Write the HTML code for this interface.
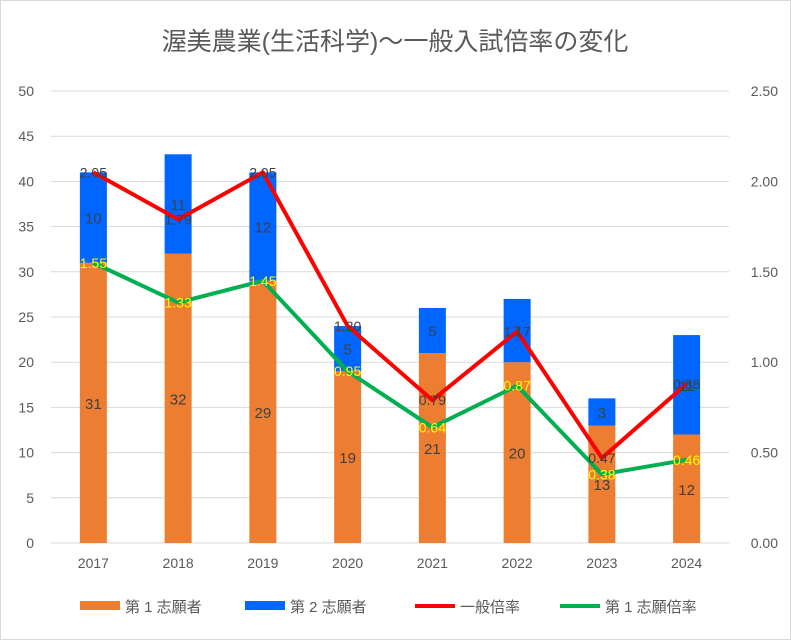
<!DOCTYPE html>
<html><head><meta charset="utf-8"><style>
body{margin:0;background:#fff}
svg{display:block;font-family:"Liberation Sans","Noto Sans CJK JP",sans-serif}
</style></head><body>
<svg id="c" width="791" height="640">
<rect x="0.5" y="0.5" width="790" height="639" fill="#fff" stroke="#d9d9d9"/>
<text x="395" y="50" text-anchor="middle" font-size="25" fill="#595959">渥美農業(生活科学)～一般入試倍率の変化</text>
<g id="grid"></g><g id="bars"></g><g id="lines"></g><g id="labels"></g>
<g id="legend" font-size="15" fill="#595959">
<g><rect x="80" y="601" width="40" height="9" fill="#ed7d31"/><text x="125" y="612">第 1 志願者</text></g>
<g><rect x="245" y="601" width="40" height="9" fill="#0066ff"/><text x="290" y="612">第 2 志願者</text></g>
<g><line x1="415" y1="606" x2="455" y2="606" stroke="#ff0000" stroke-width="4"/><text x="460" y="612">一般倍率</text></g>
<g><line x1="560" y1="606" x2="600" y2="606" stroke="#00b050" stroke-width="4"/><text x="605" y="612">第 1 志願倍率</text></g>
</g>
</svg>
<script>
const categories=["2017","2018","2019","2020","2021","2022","2023","2024"];
const firstApplicants=[31,32,29,19,21,20,13,12];
const secondApplicants=[10,11,12,5,5,7,3,11];
const generalRate=[2.05,1.79,2.05,1.20,0.79,1.17,0.47,0.88];
const firstRate=[1.55,1.33,1.45,0.95,0.64,0.87,0.38,0.46];
const leftTicks=[0,5,10,15,20,25,30,35,40,45,50];
const rightTicks=["0.00","0.50","1.00","1.50","2.00","2.50"];
const NS="http://www.w3.org/2000/svg";
const X0=51,X1=729,Y0=543,Y1=91;
const step=(X1-X0)/categories.length;
const xs=i=>X0+step*(i+0.5);
const yL=v=>Y0-(v/50)*(Y0-Y1);
const yR=v=>Y0-(v/2.5)*(Y0-Y1);
function mk(tag,attrs,parent,txt){const e=document.createElementNS(NS,tag);for(const k in attrs)e.setAttribute(k,attrs[k]);if(txt!==undefined)e.textContent=txt;document.getElementById(parent).appendChild(e);return e;}
leftTicks.forEach(t=>{
 const g=mk('line',{x1:X0,x2:X1,y1:yL(t),y2:yL(t),stroke:'#d9d9d9'},'grid');
 
 
 const l=mk('text',{x:34,y:yL(t)+5,'text-anchor':'end','font-size':14,fill:'#595959'},'grid',t);
 
 
});
rightTicks.forEach(t=>{
 const l=mk('text',{x:778,y:yR(parseFloat(t))+5,'text-anchor':'end','font-size':14,fill:'#595959'},'grid',t);
 
 
});
const bw=27;
categories.forEach((c,i)=>{
 const x=xs(i);
 const a=mk('rect',{x:x-bw/2,y:yL(firstApplicants[i]),width:bw,height:Y0-yL(firstApplicants[i]),fill:'#ed7d31'},'bars');
 
 
 const tot=firstApplicants[i]+secondApplicants[i];
 const b=mk('rect',{x:x-bw/2,y:yL(tot),width:bw,height:yL(firstApplicants[i])-yL(tot),fill:'#0066ff'},'bars');
 
 
 const cl=mk('text',{x:x,y:568,'text-anchor':'middle','font-size':14,fill:'#595959'},'grid',c);
 
 
 const l1=mk('text',{x:x,y:(yL(firstApplicants[i])+Y0)/2+6,'text-anchor':'middle','font-size':15,fill:'#404040'},'labels',firstApplicants[i]);
 
 
 const l2=mk('text',{x:x,y:(yL(tot)+yL(firstApplicants[i]))/2+6,'text-anchor':'middle','font-size':15,fill:'#404040'},'labels',secondApplicants[i]);
 
 
});
function line(arr,color,name){
 const p=mk('polyline',{points:arr.map((v,i)=>xs(i)+','+yR(v)).join(' '),fill:'none',stroke:color,'stroke-width':4,'stroke-linejoin':'round'},'lines');
 
 
}
line(generalRate,'#ff0000','line-general-rate');
line(firstRate,'#00b050','line-first-rate');
generalRate.forEach((v,i)=>{
 const t=mk('text',{x:xs(i),y:yR(v)+5,'text-anchor':'middle','font-size':14,fill:'#404040'},'labels',v.toFixed(2));
 
 
});
firstRate.forEach((v,i)=>{
 const t=mk('text',{x:xs(i),y:yR(v)+5,'text-anchor':'middle','font-size':14,fill:'#ffff00'},'labels',v.toFixed(2));
 
 
});
</script>
</body></html>
